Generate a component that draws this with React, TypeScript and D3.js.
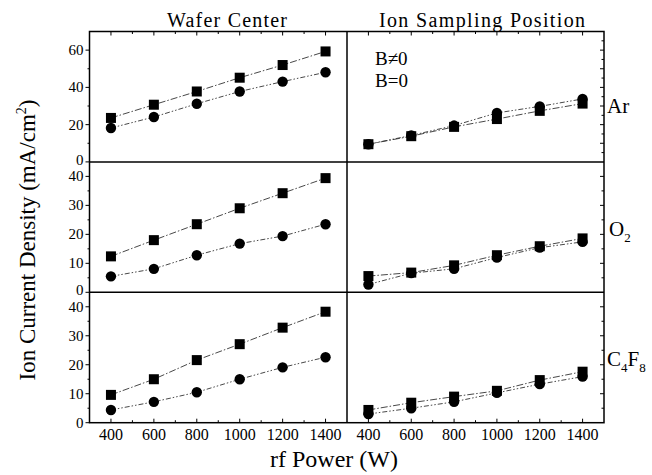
import React from "react";
import * as d3 from "d3";

const power = [400, 600, 800, 1000, 1200, 1400];
const xTicks = [400, 600, 800, 1000, 1200, 1400];
const xMinorTicks = [400, 500, 600, 700, 800, 900, 1000, 1100, 1200, 1300, 1400];

const arWaferB = [23.6, 30.7, 37.8, 45.2, 52.0, 59.3];
const arWafer0 = [18.2, 24.1, 31.2, 37.8, 43.1, 48.1];
const arSampB = [9.5, 13.8, 18.8, 23.0, 27.4, 31.3];
const arSamp0 = [9.5, 14.2, 19.5, 26.3, 29.8, 33.8];

const o2WaferB = [12.4, 18.0, 23.5, 29.0, 34.2, 39.4];
const o2Wafer0 = [5.5, 8.1, 12.8, 16.8, 19.4, 23.5];
const o2SampB = [5.6, 6.8, 9.3, 12.8, 15.9, 18.6];
const o2Samp0 = [2.7, 6.6, 8.1, 12.0, 15.4, 17.4];

const c4WaferB = [9.6, 15.0, 21.6, 27.1, 32.8, 38.3];
const c4Wafer0 = [4.4, 7.2, 10.5, 15.0, 19.1, 22.6];
const c4SampB = [4.4, 6.9, 9.0, 11.0, 14.7, 17.6];
const c4Samp0 = [3.0, 5.0, 7.2, 10.3, 13.3, 15.9];

const rowYMax = [70, 45, 45];
const rowLabelTicks = [[0, 20, 40, 60], [0, 10, 20, 30, 40], [0, 10, 20, 30, 40]];
const rowMinorTicks = [[10, 30, 50], [5, 15, 25, 35], [5, 15, 25, 35]];
const rowRightTicks = [[5, 10, 15, 20, 25, 30, 35, 40, 45, 50, 55, 60, 65], [5, 10, 15, 20, 25, 30, 35, 40], [5, 10, 15, 20, 25, 30, 35, 40]];

const rows = [
  { left: [arWaferB, arWafer0], right: [arSampB, arSamp0] },
  { left: [o2WaferB, o2Wafer0], right: [o2SampB, o2Samp0] },
  { left: [c4WaferB, c4Wafer0], right: [c4SampB, c4Samp0] },
];

const FONT = "'Liberation Serif', 'Times New Roman', Times, serif";

const X0 = 89.5, XMID = 347, X1 = 604;
const TOP = 31.5, BOTTOM = 422.7;
const rowH = (BOTTOM - TOP) / 3;

export default function App() {
  const xLeft = d3.scaleLinear().domain([300, 1500]).range([X0, XMID]);
  const xRight = d3.scaleLinear().domain([300, 1500]).range([XMID, X1]);
  const yScales = rowYMax.map((m, i) =>
    d3.scaleLinear().domain([0, m]).range([TOP + (i + 1) * rowH, TOP + i * rowH])
  );

  const sqDash = "7,2,1.5,2";
  const ciDash = "5,2,1.5,2,1.5,2";
  const T = { fontFamily: FONT };

  const renderSeries = (xs: d3.ScaleLinear<number, number>, y: d3.ScaleLinear<number, number>, sq: number[], ci: number[], key: string) => {
    const line = d3.line<number>().x((_, i) => xs(power[i])).y((v) => y(v));
    return (
      <g key={key}>
        <path d={line(sq) || ""} fill="none" stroke="#333" strokeWidth={0.9} strokeDasharray={sqDash} />
        <path d={line(ci) || ""} fill="none" stroke="#333" strokeWidth={0.9} strokeDasharray={ciDash} />
        {sq.map((v, i) => (
          <rect key={"s" + i} x={xs(power[i]) - 5} y={y(v) - 5} width={10} height={10} fill="#000" />
        ))}
        {ci.map((v, i) => (
          <circle key={"c" + i} cx={xs(power[i])} cy={y(v)} r={5.2} fill="#000" />
        ))}
      </g>
    );
  };

  return (
    <svg width={652} height={475} style={{ position: "absolute", left: 0, top: 0, background: "#fff" }}>
      <rect x={0} y={0} width={652} height={475} fill="#fff" />
      <g style={T}>
        {/* titles */}
        <text style={T} x={227} y={27} fontSize={20} textAnchor="middle" textLength={120} lengthAdjust="spacing">Wafer Center</text>
        <text style={T} x={482} y={27} fontSize={20} textAnchor="middle" textLength={206} lengthAdjust="spacing">Ion Sampling Position</text>

        {/* data */}
        {rows.map((r, i) => (
          <g key={"row" + i}>
            {renderSeries(xLeft, yScales[i], r.left[0], r.left[1], "l" + i)}
            {renderSeries(xRight, yScales[i], r.right[0], r.right[1], "r" + i)}
          </g>
        ))}

        {/* frame */}
        <rect x={X0} y={TOP} width={X1 - X0} height={BOTTOM - TOP} fill="none" stroke="#000" strokeWidth={1.5} />
        <line x1={XMID} x2={XMID} y1={TOP} y2={BOTTOM} stroke="#000" strokeWidth={1.5} />
        {[1, 2].map((k) => (
          <line key={"h" + k} x1={X0} x2={X1} y1={TOP + k * rowH} y2={TOP + k * rowH} stroke="#000" strokeWidth={1.5} />
        ))}

        {/* left axis ticks & labels */}
        {yScales.map((y, i) => (
          <g key={"ly" + i}>
            {rowLabelTicks[i].map((t) => (
              <g key={"lt" + t}>
                <line x1={X0 - 4} x2={X0} y1={y(t)} y2={y(t)} stroke="#000" strokeWidth={1} />
                <text style={T} x={X0 - 6} y={y(t) + (t === 0 && i < 2 ? 3 : 5)} fontSize={15} textAnchor="end">{t}</text>
              </g>
            ))}
            {rowMinorTicks[i].map((t) => (
              <line key={"lm" + t} x1={X0 - 2} x2={X0} y1={y(t)} y2={y(t)} stroke="#000" strokeWidth={1} />
            ))}
            {rowRightTicks[i].map((t) => (
              <line key={"rt" + t} x1={X1 - (t % 10 === 0 ? 4 : 2.5)} x2={X1} y1={y(t)} y2={y(t)} stroke="#000" strokeWidth={1} />
            ))}
          </g>
        ))}

        {/* x ticks (top and bottom edges) */}
        {[xLeft, xRight].map((xs, j) => (
          <g key={"x" + j}>
            {xMinorTicks.map((t) => {
              const len = t % 200 === 0 ? 4 : 2.5;
              return (
                <g key={"xt" + t}>
                  <line x1={xs(t)} x2={xs(t)} y1={TOP} y2={TOP + len} stroke="#000" strokeWidth={1} />
                  <line x1={xs(t)} x2={xs(t)} y1={BOTTOM} y2={BOTTOM - len} stroke="#000" strokeWidth={1} />
                </g>
              );
            })}
            {xTicks.map((t) => (
              <text style={T} key={"xl" + t} x={xs(t)} y={440} fontSize={16} textAnchor="middle">{t}</text>
            ))}
          </g>
        ))}

        {/* legend text */}
        <text style={T} x={375} y={65} fontSize={19}>B≠0</text>
        <text style={T} x={375} y={87} fontSize={19}>B=0</text>

        {/* gas labels */}
        <text style={T} x={607} y={113} fontSize={21}>Ar</text>
        <text style={T} x={609} y={236} fontSize={21}>O<tspan dy={6} fontSize={13}>2</tspan></text>
        <text style={T} x={607} y={366} fontSize={21}>C<tspan dy={6} fontSize={13}>4</tspan><tspan dy={-6} fontSize={21}>F</tspan><tspan dy={6} fontSize={13}>8</tspan></text>

        {/* axis titles */}
        <text style={T} x={334} y={467} fontSize={24} textAnchor="middle">rf Power (W)</text>
        <text style={T} transform="translate(35,240) rotate(-90)" fontSize={23} textAnchor="middle">
          Ion Current Density (mA/cm<tspan dy={-9} fontSize={14}>2</tspan><tspan dy={9}>)</tspan>
        </text>
      </g>
    </svg>
  );
}
